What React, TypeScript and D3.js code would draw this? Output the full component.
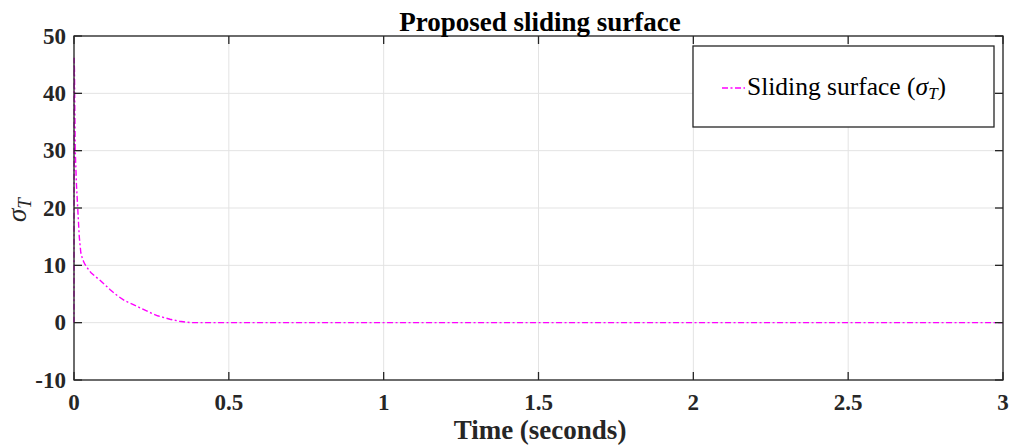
import React from "react";
import * as d3 from "d3";

const timeValues = [0, 0.0005, 0.0015, 0.004, 0.008, 0.012, 0.017, 0.022, 0.028, 0.035, 0.045, 0.055, 0.07, 0.084, 0.1, 0.116, 0.14, 0.165, 0.19, 0.213, 0.24, 0.27, 0.31, 0.34, 0.375, 0.4, 0.5, 1, 1.5, 2, 2.5, 3];
const sigmaValues = [0, 46.2, 44, 30, 24, 20, 15, 12.2, 11, 10.2, 9.4, 8.7, 8.0, 7.4, 6.6, 5.8, 4.7, 3.8, 3.2, 2.6, 1.9, 1.2, 0.6, 0.25, 0.02, 0, 0, 0, 0, 0, 0, 0];
const xTicks = [0, 0.5, 1, 1.5, 2, 2.5, 3];
const yTicks = [-10, 0, 10, 20, 30, 40, 50];
const xTickLabels = ["0", "0.5", "1", "1.5", "2", "2.5", "3"];

const W = 1009, H = 447;
const L = 74, R = 1003, T = 36, B = 380;

export default function App() {
  const x = d3.scaleLinear().domain([0, 3]).range([L, R]);
  const y = d3.scaleLinear().domain([-10, 50]).range([B, T]);
  const pts = timeValues.map((t, i) => [t, sigmaValues[i]] as [number, number]);
  const line = d3.line<[number, number]>().x(d => x(d[0])).y(d => y(d[1]));
  const font = "'Liberation Serif', 'Times New Roman', serif";
  const tl = 8;
  return (
    <svg width={W} height={H} style={{ position: "absolute", left: 0, top: 0, background: "#fff" }}>
      <rect x={0} y={0} width={W} height={H} fill="#fff" />
      {xTicks.map(t => (
        <line key={"gx" + t} x1={x(t)} x2={x(t)} y1={T} y2={B} stroke="#e3e3e3" strokeWidth={1} />
      ))}
      {yTicks.map(t => (
        <line key={"gy" + t} x1={L} x2={R} y1={y(t)} y2={y(t)} stroke="#e3e3e3" strokeWidth={1} />
      ))}
      <path d={line(pts) || ""} fill="none" stroke="#ff00ff" strokeWidth={1.4} strokeDasharray="6,2.5,2,2.5" />
      <rect x={L} y={T} width={R - L} height={B - T} fill="none" stroke="#262626" strokeWidth={1.3} />
      {xTicks.map(t => (
        <g key={"tx" + t}>
          <line x1={x(t)} x2={x(t)} y1={B} y2={B - tl} stroke="#262626" strokeWidth={1.3} />
          <line x1={x(t)} x2={x(t)} y1={T} y2={T + tl} stroke="#262626" strokeWidth={1.3} />
        </g>
      ))}
      {yTicks.map(t => (
        <g key={"ty" + t}>
          <line x1={L} x2={L + tl} y1={y(t)} y2={y(t)} stroke="#262626" strokeWidth={1.3} />
          <line x1={R} x2={R - tl} y1={y(t)} y2={y(t)} stroke="#262626" strokeWidth={1.3} />
        </g>
      ))}
      {xTicks.map((t, i) => (
        <text key={"lx" + t} x={x(t)} y={410} textAnchor="middle" fontFamily={font} fontWeight="bold" fontSize={23} fill="#262626">{xTickLabels[i]}</text>
      ))}
      {yTicks.map(t => (
        <text key={"ly" + t} x={66} y={y(t) + 7.5} textAnchor="end" fontFamily={font} fontWeight="bold" fontSize={23} fill="#262626">{t}</text>
      ))}
      <text x={540} y={31} textAnchor="middle" fontFamily={font} fontWeight="bold" fontSize={27} fill="#000">Proposed sliding surface</text>
      <text x={540} y={439} textAnchor="middle" fontFamily={font} fontWeight="bold" fontSize={27} fill="#262626">Time (seconds)</text>
      <text transform="translate(26,210) rotate(-90)" textAnchor="middle" fontFamily={font} fontSize={27} fill="#262626">
        <tspan fontStyle="italic">σ</tspan>
        <tspan fontStyle="italic" fontSize={19} dy={5}>T</tspan>
      </text>
      <rect x={693} y={46} width={301} height={81} fill="#fff" stroke="#262626" strokeWidth={1.3} />
      <line x1={722} x2={745} y1={88} y2={88} stroke="#ff00ff" strokeWidth={1.4} strokeDasharray="6,2.5,2,2.5" />
      <text x={747} y={95} fontFamily={font} fontSize={25.5} fill="#000">
        Sliding surface (<tspan fontStyle="italic">σ</tspan><tspan fontStyle="italic" fontSize={17} dy={4}>T</tspan><tspan dy={-4}>)</tspan>
      </text>
    </svg>
  );
}
